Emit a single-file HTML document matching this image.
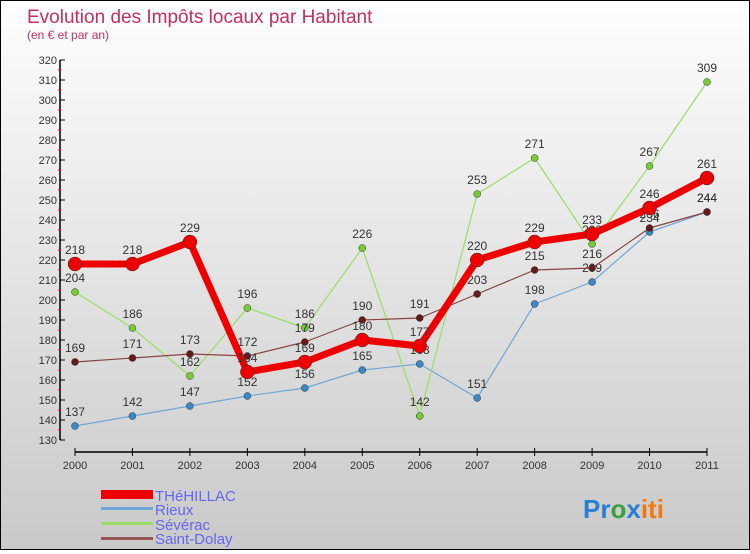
<!DOCTYPE html>
<html><head><meta charset="utf-8"><style>
body{margin:0;width:750px;height:550px;overflow:hidden;font-family:"Liberation Sans",sans-serif}
#wrap{position:relative;width:748px;height:548px;border:1px solid #000;background:linear-gradient(#fefefe,#c9c9c9)}
</style></head><body>
<div id="wrap">
<svg id="c" width="748" height="548" xmlns="http://www.w3.org/2000/svg">
<text x="26" y="22" font-size="19" fill="#c4305e">Evolution des Impôts locaux par Habitant</text>
<text x="26" y="38" font-size="12" fill="#c4305e">(en € et par an)</text>
<g id="axes"></g><g id="series"></g>
<g>
<rect x="100" y="489" width="52" height="9" fill="#e00"/>
<text x="154" y="500" font-size="15" fill="#6666ee">THéHILLAC</text>
<rect x="100" y="506" width="52" height="3" fill="#6fa6d6"/>
<text x="154" y="514" font-size="15" fill="#6666ee">Rieux</text>
<rect x="100" y="521" width="52" height="3" fill="#99dd66"/>
<text x="154" y="529" font-size="15" fill="#6666ee">Sévérac</text>
<rect x="100" y="536" width="52" height="3" fill="#995555"/>
<text x="154" y="543" font-size="15" fill="#6666ee">Saint-Dolay</text>
</g>
<text x="582" y="517" font-size="26" font-weight="bold"><tspan fill="#2a7fd4">Pr</tspan><tspan fill="#3aa03a">o</tspan><tspan fill="#2a7fd4">x</tspan><tspan fill="#f07a10">iti</tspan></text>
</svg></div>
<script>
const years=[2000,2001,2002,2003,2004,2005,2006,2007,2008,2009,2010,2011];
const yTicks=[130,140,150,160,170,180,190,200,210,220,230,240,250,260,270,280,290,300,310,320];
const thehillac=[218,218,229,164,169,180,177,220,229,233,246,261];
const rieux=[137,142,147,152,156,165,168,151,198,209,234,244];
const severac=[204,186,162,196,186,226,142,253,271,228,267,309];
const saintDolay=[169,171,173,172,179,190,191,203,215,216,236,244];
const NS="http://www.w3.org/2000/svg";
const X=i=>74+i*(632/11), Y=v=>59+(320-v)*2;
function mk(p,t,a){const e=document.createElementNS(NS,t);for(const k in a)e.setAttribute(k,a[k]);p.appendChild(e);return e;}
const ax=document.getElementById('axes');
const yl=mk(ax,'line',{x1:59,y1:Y(320),x2:59,y2:Y(130),stroke:'#000','stroke-width':1.5});


yTicks.forEach(v=>{
 mk(ax,'line',{x1:59,y1:Y(v),x2:64,y2:Y(v),stroke:'#000'});
 if(v<320)mk(ax,'line',{x1:57,y1:Y(v+5),x2:60,y2:Y(v+5),stroke:'#e00'});
 const t=mk(ax,'text',{x:56,y:Y(v)+4,'text-anchor':'end','font-size':11,fill:'#333'});t.textContent=v;
 
 
});
const xl=mk(ax,'line',{x1:74,y1:451,x2:706,y2:451,stroke:'#000','stroke-width':1.5});


years.forEach((yr,i)=>{
 mk(ax,'line',{x1:X(i),y1:447,x2:X(i),y2:455,stroke:'#000'});
 const t=mk(ax,'text',{x:X(i),y:468,'text-anchor':'middle','font-size':11,fill:'#333'});t.textContent=yr;
 
 
});
const sg=document.getElementById('series');
function draw(name,vals,col,dot,w,r){
 const g=mk(sg,'g',{});
 
 
 const pl=mk(g,'polyline',{points:vals.map((v,i)=>X(i)+','+Y(v)).join(' '),fill:'none',stroke:col,'stroke-width':w,'stroke-linejoin':'round'});
 
 
 vals.forEach((v,i)=>{
  const c=mk(g,'circle',{cx:X(i),cy:Y(v),r:r,fill:dot,stroke:'#333','stroke-width':0.5});
  
  
  const t=mk(g,'text',{x:X(i),y:Y(v)-10,'text-anchor':'middle','font-size':12,fill:'#333'});t.textContent=v;
  
  
 });
}
draw('rieux',rieux,'#6fa6d6','#3a88c8',1.2,3.5);
draw('severac',severac,'#99dd66','#77cc33',1.2,3.5);
draw('saint-dolay',saintDolay,'#884444','#661a1a',1.2,3.5);
draw('thehillac',thehillac,'#ee0000','#ee0000',7,7);
</script></body></html>
